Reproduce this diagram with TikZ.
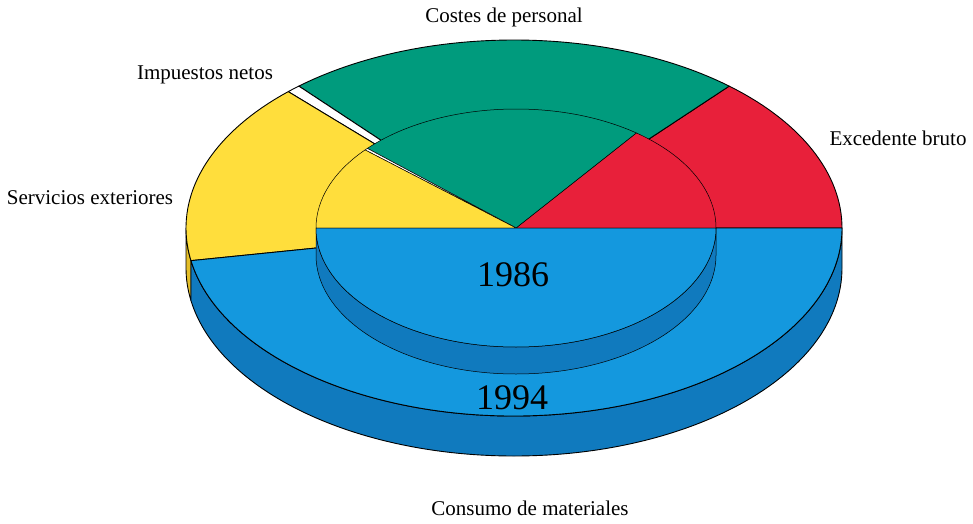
\documentclass[tikz,border=0pt]{standalone}
\usepackage{fontspec}
\setmainfont{Liberation Serif}
\usepackage{xcolor}
\usepackage{tikz}

\definecolor{piered}{RGB}{232,32,58}
\definecolor{piegreen}{RGB}{0,155,125}
\definecolor{pieyellow}{RGB}{255,222,60}
\definecolor{pieblue}{RGB}{20,152,222}
\definecolor{sideblue}{RGB}{16,122,190}
\definecolor{sideyellow}{RGB}{228,190,40}

\begin{document}
\begin{tikzpicture}[x=1pt, y=1pt,
    slice/.style={draw=black, line width=0.9pt, line join=round},
    innerslice/.style={draw=black, line width=0.5pt, line join=round},
    lbl/.style={font=\fontsize{21}{24}\selectfont, inner sep=0pt},
    yearlbl/.style={font=\fontsize{36}{40}\selectfont, inner sep=0pt}]
    \useasboundingbox (0,0) rectangle (973,523);

    % outer pie (1994): side, then top
    \foreach \a/\b/\c in {180/190/sideyellow, 190/360/sideblue}
        \filldraw[slice, fill=\c] (514,295) ++(\a:328 and 188)
            arc[start angle=\a, end angle=\b, x radius=328, y radius=188]
            -- ++(0,-40)
            arc[start angle=\b, end angle=\a, x radius=328, y radius=188] -- cycle;
    \foreach \a/\b/\c in {0/49/piered, 49/131/piegreen, 131/133.5/white,
                          133.5/190/pieyellow, 190/360/pieblue}
        \filldraw[slice, fill=\c] (514,295) -- ++(\a:328 and 188)
            arc[start angle=\a, end angle=\b, x radius=328, y radius=188] -- cycle;

    % inner pie (1986)
    \filldraw[innerslice, fill=sideblue] (516,295) ++(180:200 and 119)
        arc[start angle=180, end angle=360, x radius=200, y radius=119]
        -- ++(0,-27)
        arc[start angle=360, end angle=180, x radius=200, y radius=119] -- cycle;
    \foreach \a/\b/\c in {0/53/piered, 53/138/piegreen, 138/139/white,
                          139/180/pieyellow, 180/360/pieblue}
        \filldraw[innerslice, fill=\c] (516,295) -- ++(\a:200 and 119)
            arc[start angle=\a, end angle=\b, x radius=200, y radius=119] -- cycle;

    \node[yearlbl] (y86) at (513,248) {1986};
    \node[yearlbl] (y94) at (512,125) {1994};

    \node[lbl] (personal) at (504,506) {Costes de personal};
    \node[lbl] (impuestos) at (205,448) {Impuestos netos};
    \node[lbl] (excedente) at (898,385) {Excedente bruto};
    \node[lbl] (servicios) at (90,325) {Servicios exteriores};
    \node[lbl] (consumo) at (530,15) {Consumo de materiales};
\end{tikzpicture}
\end{document}
